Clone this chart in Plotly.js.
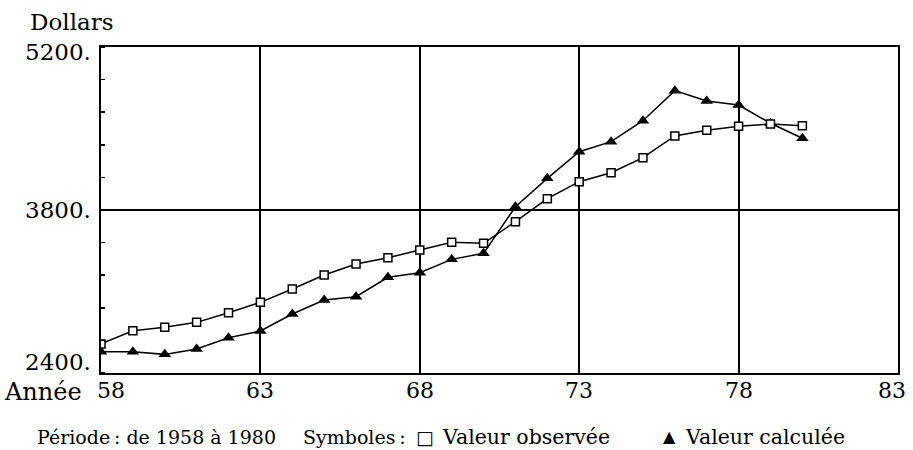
<!DOCTYPE html>
<html>
<head>
<meta charset="utf-8">
<script src="https://cdn.plot.ly/plotly-3.0.1.min.js"></script>
<style>html,body{margin:0;padding:0;background:#fff;}#chart{width:913px;height:450px;}</style>
</head>
<body>
<div id="chart"></div>
<script>
const years = [58,59,60,61,62,63,64,65,66,67,68,69,70,71,72,73,74,75,76,77,78,79,80];
const observed = [2650,2763,2792,2835,2918,3007,3121,3242,3336,3390,3456,3522,3514,3700,3897,4043,4120,4249,4436,4485,4519,4539,4524];
const calculated = [2583,2583,2560,2606,2703,2761,2907,3027,3055,3222,3261,3376,3428,3828,4072,4301,4387,4567,4825,4736,4702,4545,4416];
const xTicks = [58,63,68,73,78,83];
const yTicks = [2400,3800,5200];
const yTickText = ["2400.","3800.","5200."];
const yUnit = "Dollars";
const xUnit = "Année";
const period = "Période&#8239;: de 1958 à 1980";
const symbolsLabel = "Symboles&#8239;:";
const seriesNames = ["Valeur observée","Valeur calculée"];

const FONT = "'DejaVu Serif', serif";

const traces = [
  {x: years, y: calculated, mode: 'lines+markers', name: seriesNames[1],
   line: {color: '#000', width: 1.5},
   marker: {symbol: 'triangle-up', size: 11, color: '#000'}},
  {x: years, y: observed, mode: 'lines+markers', name: seriesNames[0],
   line: {color: '#000', width: 1.5},
   marker: {symbol: 'square', size: 8, color: '#fff', line: {color: '#000', width: 1.5}}}
];

const annotations = [];
const yShift = [-4, 0, 10];
const yAnch = ['bottom','middle','top'];
yTicks.forEach((v,i) => annotations.push({
  xref: 'paper', yref: 'y', x: 0, y: v, xanchor: 'right', yanchor: yAnch[i],
  xshift: -8, yshift: yShift[i], text: yTickText[i], showarrow: false,
  font: {family: FONT, size: 23, color: '#000'}
}));
xTicks.forEach((v,i) => annotations.push({
  xref: 'x', yref: 'paper', x: v, y: 0, xanchor: 'center', yanchor: 'top',
  xshift: i === 0 ? 10 : (i === xTicks.length-1 ? -6 : 0), yshift: -3,
  text: String(v), showarrow: false,
  font: {family: FONT, size: 22, color: '#000'}
}));
annotations.push({xref:'paper', yref:'paper', x:-0.092, y:1, xanchor:'left', yanchor:'bottom',
  yshift: 10, text: yUnit, showarrow:false, font:{family: FONT, size: 23, color:'#000'}});
annotations.push({xref:'paper', yref:'paper', x:-0.124, y:0, xanchor:'left', yanchor:'top',
  yshift: -3, text: xUnit, showarrow:false, font:{family: FONT, size: 24, color:'#000'}});
const px = p => (p - 101) / 797;
const bottomY = -0.195;
const bf = {family: FONT, size: 19, color: '#000'};
const bf2 = {family: FONT, size: 20.5, color: '#000'};
annotations.push({xref:'paper', yref:'paper', x:px(35), y:bottomY, xanchor:'left', yanchor:'middle', text: period, showarrow:false, font: bf});
annotations.push({xref:'paper', yref:'paper', x:px(301), y:bottomY, xanchor:'left', yanchor:'middle', text: symbolsLabel, showarrow:false, font: bf});
annotations.push({xref:'paper', yref:'paper', x:px(414), y:bottomY, xanchor:'left', yanchor:'middle', text: '□', showarrow:false, font: {family:'DejaVu Sans', size: 19, color:'#000'}});
annotations.push({xref:'paper', yref:'paper', x:px(440), y:bottomY, xanchor:'left', yanchor:'middle', text: seriesNames[0], showarrow:false, font: bf2});
annotations.push({xref:'paper', yref:'paper', x:px(661), y:bottomY, xanchor:'left', yanchor:'middle', text: '▲', showarrow:false, font: {family:'DejaVu Sans', size: 16, color:'#000'}});
annotations.push({xref:'paper', yref:'paper', x:px(683), y:bottomY, xanchor:'left', yanchor:'middle', text: seriesNames[1], showarrow:false, font: bf2});

const layout = {
  width: 913, height: 450,
  margin: {l: 101, r: 15, t: 47, b: 77},
  paper_bgcolor: '#fff', plot_bgcolor: '#fff',
  showlegend: false,
  xaxis: {range: [58, 83], tickvals: xTicks, showticklabels: false, ticks: '',
    showgrid: true, gridcolor: '#000', gridwidth: 2, zeroline: false,
    showline: true, linecolor: '#000', linewidth: 2, mirror: true},
  yaxis: {range: [2400, 5200], tickvals: yTicks, showticklabels: false, ticks: '',
    showgrid: true, gridcolor: '#000', gridwidth: 1.5, zeroline: false,
    showline: true, linecolor: '#000', linewidth: 2, mirror: true,
    minor: {dtick: 280, tick0: 2400, ticks: 'inside', ticklen: 4, tickcolor: '#000', tickwidth: 1.5, showgrid: false}},
  annotations: annotations
};

Plotly.newPlot('chart', traces, layout, {staticPlot: true});
</script>
</body>
</html>
